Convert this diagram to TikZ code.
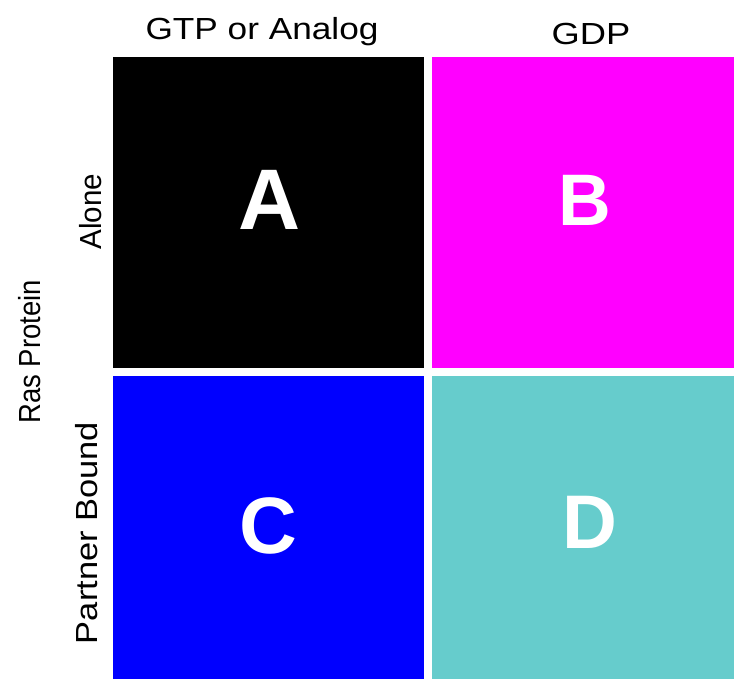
\documentclass[tikz,border=0pt]{standalone}
\usepackage{fontspec}
\setmainfont{Liberation Sans}
\definecolor{cellA}{RGB}{0,0,0}
\definecolor{cellB}{RGB}{255,0,255}
\definecolor{cellC}{RGB}{0,0,255}
\definecolor{cellD}{RGB}{102,204,204}
\tikzset{
  cell/.style={fill=#1, draw=none},
  letter/.style={text=white, inner sep=0pt, anchor=base, font=\bfseries},
  axislabel/.style={inner sep=0pt, anchor=base, font=\fontsize{30.5}{36}\selectfont},
}
\begin{document}
\begin{tikzpicture}[x=1pt, y=-1pt]
  \useasboundingbox (0,0) rectangle (734,679);
  % quadrant blocks
  \fill[cell=cellA] (113,57) rectangle (424,368);
  \fill[cell=cellB] (432,57) rectangle (734,368);
  \fill[cell=cellC] (113,376) rectangle (424,679);
  \fill[cell=cellD] (432,376) rectangle (734,679);
  % quadrant letters
  \node[letter, font=\bfseries\fontsize{86}{90}\selectfont] (la) at (270,229.3) {A};
  \node[letter, font=\bfseries\fontsize{73}{80}\selectfont] (lb) at (585,226) {B};
  \node[letter, font=\bfseries\fontsize{80}{86}\selectfont] (lc) at (268,553) {C};
  \node[letter, font=\bfseries\fontsize{76}{82}\selectfont] (ld) at (590,548) {D};
  % column headings
  \node[axislabel] (gtp) at (262,39.3) {\scalebox{1.155}[1]{GTP or Analog}};
  \node[axislabel] (gdp) at (591,44.3) {\scalebox{1.19}[1]{GDP}};
  % row headings
  \node[axislabel, rotate=90] (alone) at (101,211.5) {\scalebox{0.97}[1]{Alone}};
  \node[axislabel, rotate=90] (bound) at (97.7,533) {\scalebox{1.13}[1]{Partner Bound}};
  \node[axislabel, rotate=90] (ras) at (40.3,352) {\scalebox{0.9}[1]{Ras Protein}};
\end{tikzpicture}
\end{document}
